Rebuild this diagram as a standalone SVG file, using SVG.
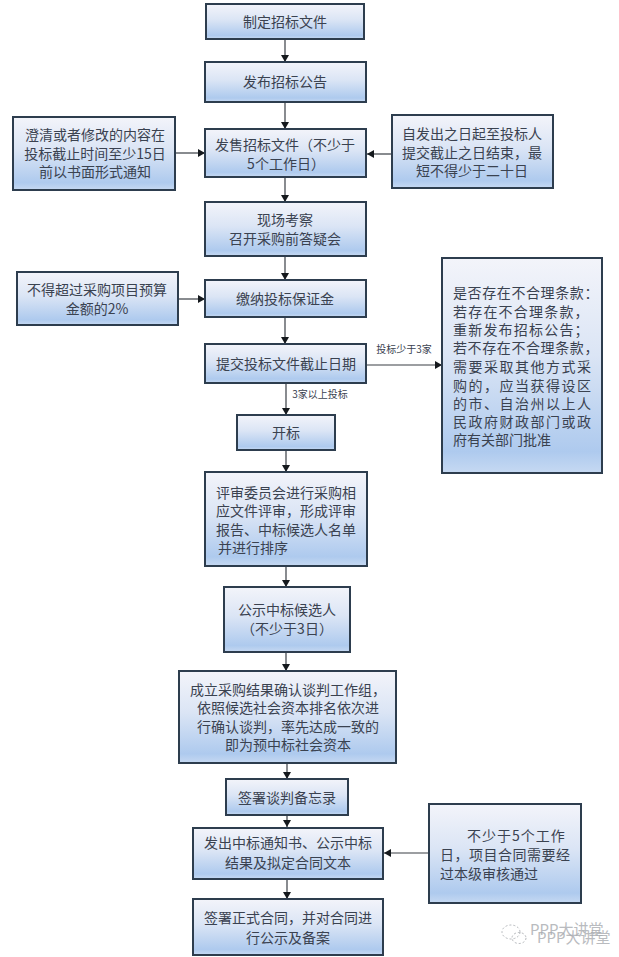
<svg xmlns="http://www.w3.org/2000/svg" width="619" height="957" viewBox="0 0 619 957">
<style>
.b{fill:url(#g);stroke:#2d3d4e;stroke-width:2}
text{font-family:"Noto Sans CJK SC","Liberation Sans",sans-serif;font-size:14px;fill:#3a4250;text-anchor:middle}
.l{text-anchor:start}
.s{font-size:10px}
.c{fill:none;stroke:#3a3f45;stroke-width:1.2;marker-end:url(#a)}
.m{font-size:15px;fill:#a8abb0;opacity:.8;text-anchor:start}
</style>
<defs>
<linearGradient id="g" x1="0" y1="0" x2="0" y2="1">
<stop offset="0" stop-color="#f3f4fa"/><stop offset=".45" stop-color="#dbe5f5"/><stop offset=".9" stop-color="#aecaee"/><stop offset="1" stop-color="#c6d9f2"/>
</linearGradient>
<marker id="a" markerUnits="userSpaceOnUse" markerWidth="8" markerHeight="8" refX="7" refY="4" orient="auto"><path d="M0 0L7 4L0 8z" fill="#15191d"/></marker>
</defs>
<rect width="619" height="957" fill="#fff"/>
<g id="connectors">
<path class="c" d="M285 40V62"/>
<path class="c" d="M285 103V129"/>
<path class="c" d="M285 178V202"/>
<path class="c" d="M285 256V280"/>
<path class="c" d="M285 318V344"/>
<path class="c" d="M286 384V415"/>
<path class="c" d="M286 451V472"/>
<path class="c" d="M286 567V587"/>
<path class="c" d="M286 653V671"/>
<path class="c" d="M287 764V779"/>
<path class="c" d="M287 816V827"/>
<path class="c" d="M287 879V899"/>
<path class="c" d="M176 153H205"/>
<path class="c" d="M392 154H367"/>
<path class="c" d="M179 299H205"/>
<path class="c" d="M367 365H442"/>
<path class="c" d="M429 853H384"/>
<text class="s" x="404" y="353">投标少于3家</text>
<text class="s" x="320" y="398">3家以上投标</text>
</g>
<g id="n1"><rect class="b" x="206" y="4" width="158" height="35"/><text x="285" y="27">制定招标文件</text></g>
<g id="n2"><rect class="b" x="205" y="62" width="161" height="40"/><text x="285" y="87">发布招标公告</text></g>
<g id="n3"><rect class="b" x="205" y="129" width="161" height="48"/><text x="285" y="150">发售招标文件（不少于</text><text x="286" y="169">5个工作日）</text></g>
<g id="n4"><rect class="b" x="13" y="117" width="162" height="73"/><text x="95" y="140">澄清或者修改的内容在</text><text x="95" y="159">投标截止时间至少15日</text><text x="95" y="177">前以书面形式通知</text></g>
<g id="n5"><rect class="b" x="392" y="115" width="161" height="73"/><text x="472" y="139">自发出之日起至投标人</text><text x="472" y="158">提交截止之日结束，最</text><text x="472" y="176">短不得少于二十日</text></g>
<g id="n6"><rect class="b" x="205" y="202" width="161" height="54"/><text x="285" y="225">现场考察</text><text x="285" y="244">召开采购前答疑会</text></g>
<g id="n7"><rect class="b" x="17" y="272" width="161" height="53"/><text x="97" y="295">不得超过采购项目预算</text><text x="97" y="314">金额的2%</text></g>
<g id="n8"><rect class="b" x="205" y="280" width="161" height="37"/><text x="285" y="304">缴纳投标保证金</text></g>
<g id="n9"><rect class="b" x="442" y="258" width="160" height="215"/>
<text class="l" x="453" y="298" style="letter-spacing:.6px">是否存在不合理条款：</text>
<text class="l" x="453" y="317" style="letter-spacing:1.2px">若存在不合理条款，</text>
<text class="l" x="453" y="335" style="letter-spacing:1.2px">重新发布招标公告；</text>
<text class="l" x="453" y="353" style="letter-spacing:.6px">若不存在不合理条款，</text>
<text class="l" x="453" y="372" style="letter-spacing:1.5px">需要采取其他方式采</text>
<text class="l" x="453" y="391" style="letter-spacing:1.5px">购的，应当获得设区</text>
<text class="l" x="453" y="409" style="letter-spacing:1.5px">的市、自治州以上人</text>
<text class="l" x="453" y="427" style="letter-spacing:1.5px">民政府财政部门或政</text>
<text class="l" x="453" y="445">府有关部门批准</text></g>
<g id="n10"><rect class="b" x="205" y="344" width="161" height="39"/><text x="286" y="369">提交投标文件截止日期</text></g>
<g id="n11"><rect class="b" x="237" y="415" width="98" height="35"/><text x="286" y="438">开标</text></g>
<g id="n12"><rect class="b" x="205" y="472" width="162" height="94"/><text x="286" y="498">评审委员会进行采购相</text><text x="286" y="516">应文件评审，形成评审</text><text x="286" y="535">报告、中标候选人名单</text><text x="253" y="553">并进行排序</text></g>
<g id="n13"><rect class="b" x="224" y="587" width="126" height="65"/><text x="287" y="615">公示中标候选人</text><text x="287" y="634">（不少于3日）</text></g>
<g id="n14"><rect class="b" x="179" y="671" width="217" height="92"/><text class="l" x="190" y="695">成立采购结果确认谈判工作组，</text><text class="l" x="197" y="713">依照候选社会资本排名依次进</text><text class="l" x="197" y="732">行确认谈判，率先达成一致的</text><text x="288" y="750">即为预中标社会资本</text></g>
<g id="n15"><rect class="b" x="226" y="779" width="122" height="36"/><text x="287" y="803">签署谈判备忘录</text></g>
<g id="n16"><rect class="b" x="193" y="828" width="190" height="51"/><text x="288" y="848">发出中标通知书、公示中标</text><text x="288" y="868">结果及拟定合同文本</text></g>
<g id="n17"><rect class="b" x="193" y="899" width="190" height="56"/><text x="288" y="923">签署正式合同，并对合同进</text><text x="288" y="943">行公示及备案</text></g>
<g id="n18"><rect class="b" x="429" y="804" width="152" height="99"/><text class="l" x="467" y="841" style="letter-spacing:1px">不少于5个工作</text><text class="l" x="440" y="860" style="letter-spacing:.5px">日，项目合同需要经</text><text class="l" x="440" y="879">过本级审核通过</text></g>
<g id="watermark" fill="none" stroke="#b4b7bb" stroke-width="1" stroke-dasharray="2 2"><ellipse cx="511" cy="932" rx="9" ry="7"/><ellipse cx="519" cy="938" rx="7" ry="5.5"/></g>
<text class="m" x="530" y="935">PPP大讲堂</text>
<text class="m" x="537" y="943">PPP大讲堂</text>
</svg>
